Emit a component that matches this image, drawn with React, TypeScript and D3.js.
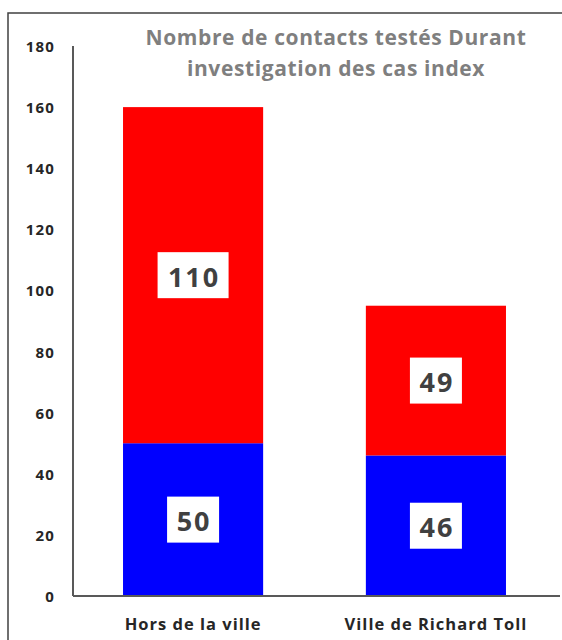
import React from 'react'
import * as d3 from 'd3'

const categories = ['Hors de la ville', 'Ville de Richard Toll']
const bottomValues = [50, 46]
const topValues = [110, 49]
const yTicks = [0, 20, 40, 60, 80, 100, 120, 140, 160, 180]
const titleLines = ['Nombre de contacts testés Durant', 'investigation des cas index']

const W = 562
const H = 640
const FONT = '"Open Sans", Lato, sans-serif'

export default function App() {
  const x = d3.scaleBand<string>().domain(categories).range([73, 556]).paddingInner(0.423).paddingOuter(0.206)
  const y = d3.scaleLinear().domain([0, 180]).range([596, 46])
  const bw = x.bandwidth()

  const segments = categories.flatMap((c, i) => [
    { c, y0: 0, y1: bottomValues[i], v: bottomValues[i], color: '#0000ff' },
    { c, y0: bottomValues[i], y1: bottomValues[i] + topValues[i], v: topValues[i], color: '#ff0000' },
  ])

  return (
    <svg width={W} height={H} style={{ position: 'absolute', left: 0, top: 0, background: '#fff' }}>
      <rect x={8} y={13} width={W + 20} height={H + 20} fill="#fff" stroke="#404040" strokeWidth={1.5} />
      {titleLines.map((t, i) => (
        <text key={t} x={336} y={37 + i * 31} textAnchor="middle" dominantBaseline="central"
          fontFamily={FONT} fontWeight="bold" fontSize={21} letterSpacing={0.6} fill="#7f7f7f">{t}</text>
      ))}
      {segments.map((s, i) => (
        <rect key={i} x={x(s.c)} y={y(s.y1)} width={bw} height={y(s.y0) - y(s.y1)} fill={s.color} />
      ))}
      {segments.map((s, i) => {
        const cx = (x(s.c) as number) + bw / 2
        const cy = (y(s.y0) + y(s.y1)) / 2
        const bwid = String(s.v).length === 3 ? 71 : 52
        return (
          <g key={'l' + i}>
            <rect x={cx - bwid / 2} y={cy - 23} width={bwid} height={46} fill="#fff" />
            <text x={cx + 1} y={cy + 1} textAnchor="middle" dominantBaseline="central"
              fontFamily={FONT} fontWeight="bold" fontSize={27} letterSpacing={2} fill="#404040">{s.v}</text>
          </g>
        )
      })}
      <line x1={73} x2={73} y1={46} y2={596} stroke="#595959" strokeWidth={2} />
      <line x1={73} x2={560} y1={596} y2={596} stroke="#595959" strokeWidth={2} />
      {yTicks.map(t => (
        <text key={t} x={55} y={y(t)} textAnchor="end" dominantBaseline="central"
          fontFamily={FONT} fontWeight="bold" fontSize={15} letterSpacing={1.2} fill="#262626">{t}</text>
      ))}
      {categories.map(c => (
        <text key={c} x={(x(c) as number) + bw / 2} y={623} textAnchor="middle" dominantBaseline="central"
          fontFamily={FONT} fontWeight="bold" fontSize={16.5} letterSpacing={1} fill="#262626">{c}</text>
      ))}
    </svg>
  )
}
